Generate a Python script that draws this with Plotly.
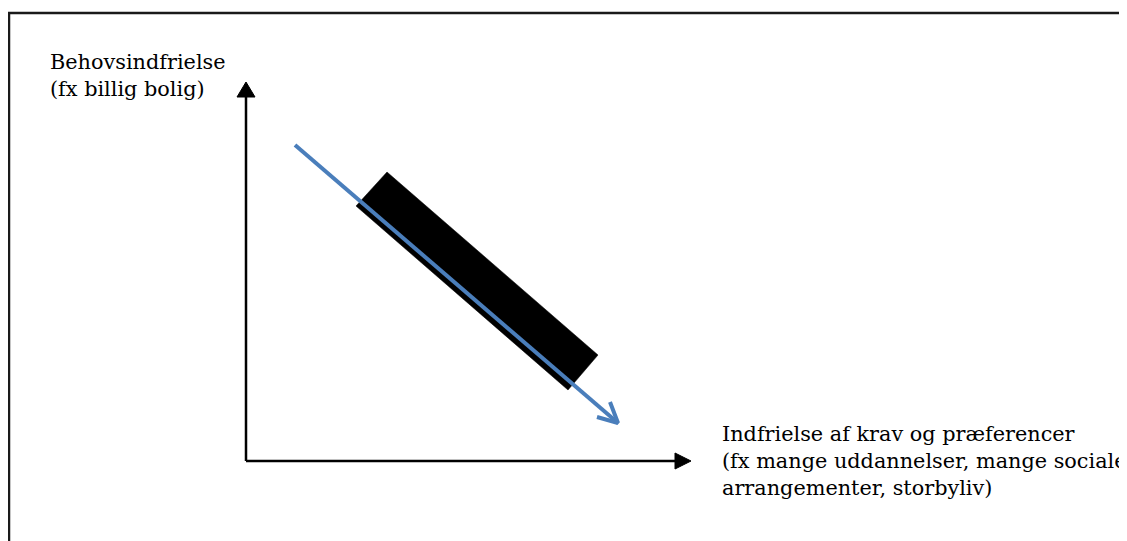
import plotly.graph_objects as go

# Conceptual diagram coordinates (origin = where the two axes meet)
x_axis_x = [0, 431]
x_axis_y = [0, 0]
x_head_x = [445, 429, 429, 445]
x_head_y = [0, 8, -8, 0]

y_axis_x = [0, 0]
y_axis_y = [0, 366]
y_head_x = [0, -9, 9, 0]
y_head_y = [379, 364, 364, 379]

band_x = [141, 352, 322, 110, 141]
band_y = [289, 106, 71, 255, 289]

trend_x = [49, 372]
trend_y = [316, 38]
trend_head_x = [351, 372, 364]
trend_head_y = [44, 38, 59]

frame_x = [-237, -237, 900]
frame_y = [-120, 448, 448]

y_label = "Behovsindfrielse<br>(fx billig bolig)"
x_label = ("Indfrielse af krav og præferencer<br>"
           "(fx mange uddannelser, mange sociale<br>"
           "arrangementer, storbyliv)")

fig = go.Figure()

line_col = "#000000"
blue = "#4A7EBB"

fig.add_trace(go.Scatter(x=frame_x, y=frame_y, mode="lines",
                         line=dict(color="#1a1a1a", width=2.5), hoverinfo="skip"))
fig.add_trace(go.Scatter(x=band_x, y=band_y, mode="lines", fill="toself",
                         fillcolor="#000000", line=dict(color="#000000", width=0.5),
                         hoverinfo="skip"))
fig.add_trace(go.Scatter(x=trend_x, y=trend_y, mode="lines",
                         line=dict(color=blue, width=4), hoverinfo="skip"))
fig.add_trace(go.Scatter(x=trend_head_x, y=trend_head_y, mode="lines",
                         line=dict(color=blue, width=4), hoverinfo="skip"))
fig.add_trace(go.Scatter(x=x_axis_x, y=x_axis_y, mode="lines",
                         line=dict(color=line_col, width=2.5), hoverinfo="skip"))
fig.add_trace(go.Scatter(x=x_head_x, y=x_head_y, mode="lines", fill="toself",
                         fillcolor=line_col, line=dict(color=line_col, width=1),
                         hoverinfo="skip"))
fig.add_trace(go.Scatter(x=y_axis_x, y=y_axis_y, mode="lines",
                         line=dict(color=line_col, width=2.5), hoverinfo="skip"))
fig.add_trace(go.Scatter(x=y_head_x, y=y_head_y, mode="lines", fill="toself",
                         fillcolor=line_col, line=dict(color=line_col, width=1),
                         hoverinfo="skip"))

font = dict(family="DejaVu Serif, serif", size=20.8, color="#000000")
fig.add_annotation(x=-198, y=386, xref="x", yref="y", text=y_label, showarrow=False,
                   xanchor="left", yanchor="middle", align="left", font=font)
fig.add_annotation(x=474, y=0, xref="x", yref="y", text=x_label, showarrow=False,
                   xanchor="left", yanchor="middle", align="left", font=font)

fig.update_layout(
    width=1127, height=541,
    margin=dict(l=0, r=0, t=0, b=0),
    paper_bgcolor="white", plot_bgcolor="white",
    showlegend=False,
    xaxis=dict(range=[-238, 889], visible=False, fixedrange=True),
    yaxis=dict(range=[-88, 453], visible=False, fixedrange=True),
)

fig.write_html("out.html")
